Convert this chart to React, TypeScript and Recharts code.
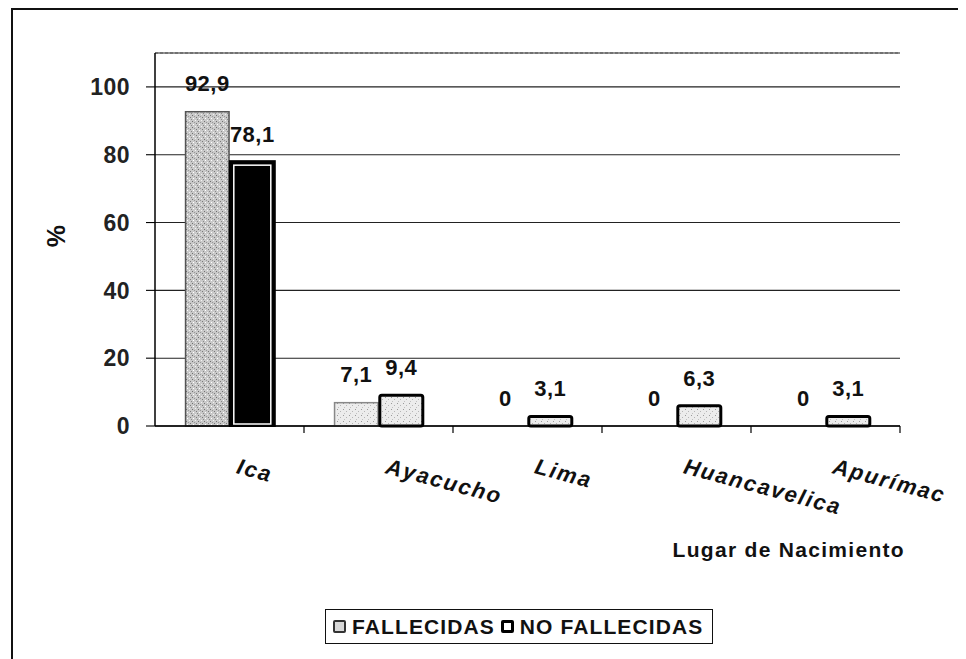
import React from "react";
import { BarChart, Bar, XAxis, YAxis, CartesianGrid, LabelList, ReferenceLine } from "recharts";

const categories = ["Ica", "Ayacucho", "Lima", "Huancavelica", "Apurímac"];
const fallecidas = [92.9, 7.1, 0, 0, 0];
const noFallecidas = [78.1, 9.4, 3.1, 6.3, 3.1];
const yTicks = [0, 20, 40, 60, 80, 100];

const FONT = "'Liberation Sans', Arial, sans-serif";
const W = 966;
const H = 659;
const PLOT = { left: 155, right: 900, top: 53, bottom: 426 };

const data = categories.map((name, i) => ({ name, fallecidas: fallecidas[i], noFallecidas: noFallecidas[i] }));

const fmt = (v: any) => (Number(v) === 0 ? "0" : Number(v).toFixed(1).replace(".", ","));

const labelStyle = { fontFamily: FONT, fontWeight: "bold", fontSize: 22, letterSpacing: 0.5, fill: "#111" };

function FallShape(props: any) {
  const { x, y, width, height, index, value } = props;
  const v = Array.isArray(value) ? value[1] - value[0] : value;
  if (!v || height <= 1) return null;
  // the first group in the scan is darker than the rest
  const dark = index === 0;
  return (
    <rect
      x={x + 0.75}
      y={y + 0.75}
      width={width - 1.5}
      height={height - 0.75}
      fill={dark ? "url(#stippleDark)" : "url(#stippleLight)"}
      stroke={dark ? "#555" : "#888"}
      strokeWidth={1.5}
    />
  );
}

function NoFallShape(props: any) {
  const { x, y, width, height, index } = props;
  if (!height || height <= 0) return null;
  if (index === 0) {
    return (
      <g>
        <rect x={x} y={y} width={width} height={height} fill="#000" stroke="#000" strokeWidth={2} />
        <rect x={x + 4} y={y + 4} width={width - 8} height={height - 6} fill="#000" stroke="#fff" strokeWidth={1.5} />
      </g>
    );
  }
  return (
    <rect x={x + 1} y={y + 1} width={width - 2} height={height - 1} rx={2} fill="url(#stippleLight)" stroke="#000" strokeWidth={3} />
  );
}

function CatTick(props: any) {
  const { x, payload } = props;
  const half = (PLOT.right - PLOT.left) / categories.length / 2;
  const bx = x + 6;
  const by = PLOT.bottom + 47;
  return (
    <g>
      <line x1={x + half} y1={PLOT.bottom} x2={x + half} y2={PLOT.bottom + 7} stroke="#000" strokeWidth={1.2} />
      <text
        x={bx}
        y={by}
        transform={`rotate(15 ${bx} ${by})`}
        textAnchor="start"
        fontFamily={FONT}
        fontStyle="italic"
        fontWeight="bold"
        fontSize={22}
        letterSpacing={1.8}
        fill="#111"
      >
        {payload.value}
      </text>
    </g>
  );
}

function LegendIcon({ dark }: { dark?: boolean }) {
  return (
    <span
      style={{
        display: "inline-block",
        width: dark ? 7 : 9,
        height: dark ? 7 : 9,
        border: dark ? "3px solid #000" : "2px solid #333",
        background: dark ? "#fff" : "#d8d8d8",
        borderRadius: 2,
        marginRight: 6,
      }}
    />
  );
}

export default function App() {
  return (
    <div style={{ position: "relative", width: W, height: H, margin: "-8px 0 0 -8px", background: "#fff", overflow: "hidden" }}>
      <div style={{ position: "absolute", left: 11, top: 8, right: 0, height: 649, borderTop: "2px solid #111", borderLeft: "2px solid #111" }} />
      <BarChart
        width={W}
        height={H}
        data={data}
        margin={{ top: PLOT.top, right: W - PLOT.right, left: 0, bottom: 133 }}
        barCategoryGap="20%"
        barGap={0}
      >
        <defs>
          <pattern id="stippleDark" width="6" height="6" patternUnits="userSpaceOnUse">
            <rect width="6" height="6" fill="#c9c9c9" />
            <rect x="0" y="1" width="1" height="1" fill="#6f6f6f" />
            <rect x="3" y="0" width="1" height="1" fill="#f2f2f2" />
            <rect x="4" y="3" width="1" height="1" fill="#7a7a7a" />
            <rect x="1" y="4" width="1" height="1" fill="#ffffff" />
            <rect x="2" y="2" width="1" height="1" fill="#9a9a9a" />
            <rect x="5" y="5" width="1" height="1" fill="#8a8a8a" />
          </pattern>
          <pattern id="stippleLight" width="6" height="6" patternUnits="userSpaceOnUse">
            <rect width="6" height="6" fill="#ececec" />
            <rect x="1" y="1" width="1" height="1" fill="#9a9a9a" />
            <rect x="4" y="3" width="1" height="1" fill="#b5b5b5" />
            <rect x="2" y="5" width="1" height="1" fill="#c0c0c0" />
          </pattern>
        </defs>
        <CartesianGrid vertical={false} stroke="#222" strokeWidth={1.1} />
        <ReferenceLine y={110} stroke="#555" strokeDasharray="3 2" strokeWidth={1} />
        <XAxis
          dataKey="name"
          tick={<CatTick />}
          tickLine={false}
          axisLine={{ stroke: "#000", strokeWidth: 1.5 }}
          height={100}
          interval={0}
          label={{
            content: (p: any) => {
              const vb = p.viewBox || { x: PLOT.left, y: PLOT.bottom, width: PLOT.right - PLOT.left };
              return (
                <text
                  x={vb.x + vb.width + 5}
                  y={vb.y + 131}
                  textAnchor="end"
                  fontFamily={FONT}
                  fontWeight="bold"
                  fontSize={21}
                  letterSpacing={1.3}
                  fill="#111"
                >
                  Lugar de Nacimiento
                </text>
              );
            },
          }}
        />
        <YAxis
          domain={[0, 110]}
          ticks={yTicks}
          width={PLOT.left}
          tickSize={9}
          tickMargin={16}
          tickLine={{ stroke: "#000", strokeWidth: 1.1 }}
          axisLine={{ stroke: "#000", strokeWidth: 1.5 }}
          tick={{ fontFamily: FONT, fontWeight: "bold", fontSize: 23, letterSpacing: 0.5, fill: "#222" }}
          label={{
            content: () => (
              <text
                x={56}
                y={236}
                transform="rotate(-90 56 236)"
                textAnchor="middle"
                dominantBaseline="central"
                fontFamily={FONT}
                fontWeight="bold"
                fontSize={25}
                fill="#111"
              >
                %
              </text>
            ),
          }}
        />
        <YAxis
          yAxisId="right"
          orientation="right"
          domain={[0, 110]}
          width={0}
          tick={false}
          tickLine={false}
          axisLine={{ stroke: "#444", strokeWidth: 1, strokeDasharray: "3 2" }}
        />
        <Bar dataKey="fallecidas" name="FALLECIDAS" minPointSize={0.5} shape={<FallShape />} isAnimationActive={false}>
          <LabelList dataKey="fallecidas" position="top" offset={20} formatter={fmt} style={labelStyle} />
        </Bar>
        <Bar dataKey="noFallecidas" name="NO FALLECIDAS" shape={<NoFallShape />} isAnimationActive={false}>
          <LabelList dataKey="noFallecidas" position="top" offset={19} formatter={fmt} style={labelStyle} />
        </Bar>
      </BarChart>
      <div
        style={{
          position: "absolute",
          left: 325,
          top: 609,
          width: 388,
          height: 35,
          border: "1.5px solid #111",
          display: "flex",
          alignItems: "center",
          paddingLeft: 7,
          boxSizing: "border-box",
          fontFamily: FONT,
          fontWeight: "bold",
          fontSize: 21,
          letterSpacing: 1.1,
          color: "#111",
          whiteSpace: "nowrap",
        }}
      >
        <LegendIcon />
        <span style={{ marginRight: 6 }}>FALLECIDAS</span>
        <LegendIcon dark />
        <span>NO FALLECIDAS</span>
      </div>
    </div>
  );
}
